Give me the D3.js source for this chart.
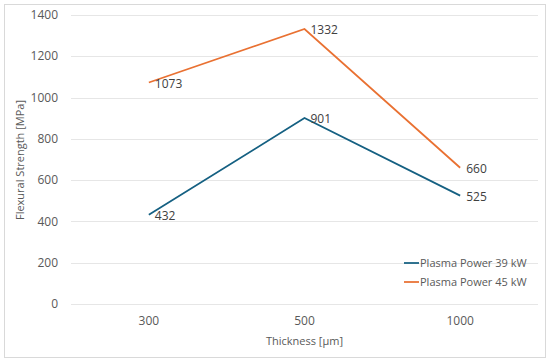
<!DOCTYPE html>
<html>
<head>
<meta charset="utf-8">
<script src="https://cdn.jsdelivr.net/npm/d3@7"></script>
<style>
  body { margin: 0; background: #fff; }
  svg { display: block; font-family: "Open Sans", "Liberation Sans", sans-serif; }
</style>
</head>
<body>
<svg id="chart" width="550" height="363"></svg>
<script>
const categories = ["300", "500", "1000"];
const power39 = [432, 901, 525];
const power45 = [1073, 1332, 660];
const yTicks = [0, 200, 400, 600, 800, 1000, 1200, 1400];
const seriesNames = ["Plasma Power 39 kW", "Plasma Power 45 kW"];

const svg = d3.select("svg#chart");
const colors = ["#156082", "#E97132"];

// outer frame
svg.append("rect")
    .attr("x", 4.5).attr("y", 4.5)
    .attr("width", 541).attr("height", 353)
    .attr("fill", "#fff")
    .attr("stroke", "#d9d9d9");

const x = d3.scaleBand().domain(categories).range([71, 538]);
const y = d3.scaleLinear().domain([0, 1400]).range([304, 15]);

// gridlines
svg.append("g").selectAll("line")
    .data(yTicks)
    .join("line")
    .attr("x1", 71).attr("x2", 538)
    .attr("y1", d => Math.round(y(d)) + 0.5)
    .attr("y2", d => Math.round(y(d)) + 0.5)
    .attr("stroke", "#e6e6e6");

// y tick labels
svg.append("g").selectAll("text")
    .data(yTicks)
    .join("text")
    .attr("x", 58)
    .attr("y", d => y(d))
    .attr("dy", "0.35em")
    .attr("text-anchor", "end")
    .attr("font-size", 12)
    .attr("fill", "#595959")
    .text(d => d);

// x tick labels
svg.append("g").selectAll("text")
    .data(categories)
    .join("text")
    .attr("x", d => x(d) + x.bandwidth() / 2)
    .attr("y", 321)
    .attr("dy", "0.35em")
    .attr("text-anchor", "middle")
    .attr("font-size", 12)
    .attr("fill", "#595959")
    .text(d => d);

// axis titles
svg.append("text")
    .attr("x", (71 + 538) / 2)
    .attr("y", 341)
    .attr("dy", "0.35em")
    .attr("text-anchor", "middle")
    .attr("font-size", 11)
    .attr("fill", "#595959")
    .text("Thickness [\u03bcm]");

svg.append("text")
    .attr("transform", "translate(20,160) rotate(-90)")
    .attr("dy", "0.35em")
    .attr("text-anchor", "middle")
    .attr("font-size", 11)
    .attr("fill", "#595959")
    .text("Flexural Strength [MPa]");

const line = d3.line()
    .x((d, i) => x(categories[i]) + x.bandwidth() / 2)
    .y(d => y(d));

[power39, power45].forEach((vals, s) => {
    svg.append("path")
        .datum(vals)
        .attr("d", line)
        .attr("fill", "none")
        .attr("stroke", colors[s])
        .attr("stroke-width", 1.75);

    svg.append("g").selectAll("text")
        .data(vals)
        .join("text")
        .attr("x", (d, i) => x(categories[i]) + x.bandwidth() / 2 + 6)
        .attr("y", d => y(d) + 1)
        .attr("dy", "0.35em")
        .attr("font-size", 12)
        .attr("fill", "#404040")
        .text(d => d);
});

// legend
const legend = svg.append("g").selectAll("g")
    .data(seriesNames)
    .join("g")
    .attr("transform", (d, i) => `translate(404,${263 + i * 19})`);
legend.append("line")
    .attr("x1", 0).attr("x2", 15)
    .attr("stroke", (d, i) => colors[i])
    .attr("stroke-width", 1.75);
legend.append("text")
    .attr("x", 16)
    .attr("dy", "0.35em")
    .attr("font-size", 11)
    .attr("fill", "#595959")
    .text(d => d);
</script>
</body>
</html>
